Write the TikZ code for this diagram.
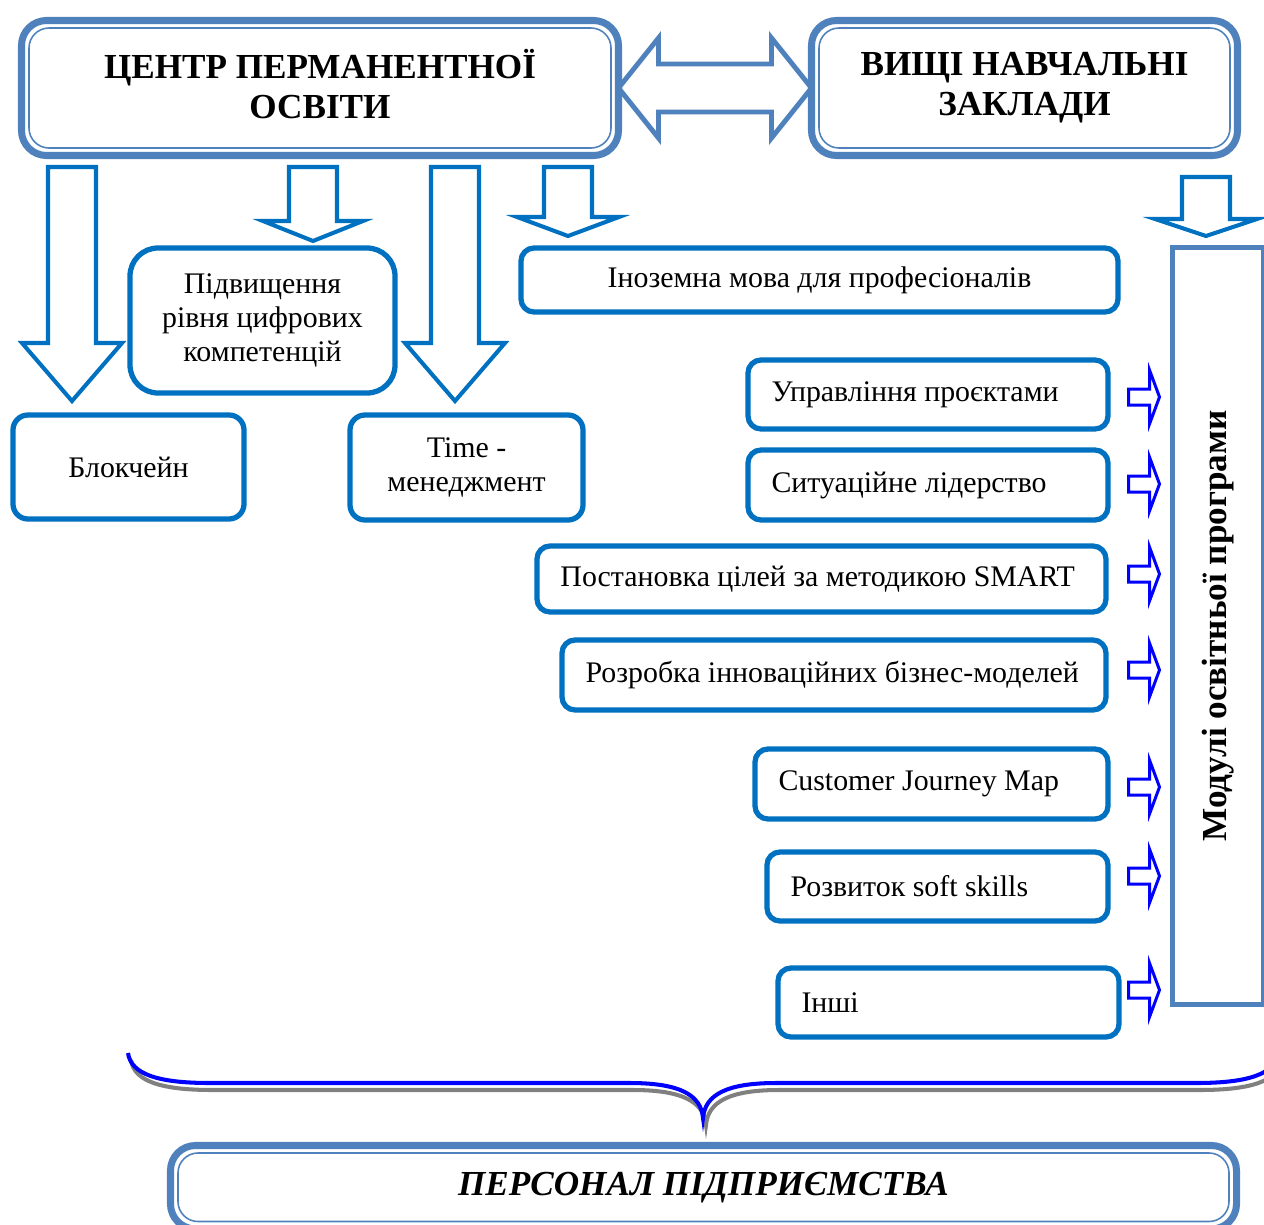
\documentclass[tikz,border=0pt]{standalone}
\usepackage{fontspec}
\setmainfont{Liberation Serif}
\usetikzlibrary{calc}

\definecolor{steelblue}{HTML}{4F81BD}
\definecolor{officeblue}{HTML}{0070C0}
\definecolor{brightblue}{HTML}{0000FF}
\definecolor{shade}{HTML}{808080}

% hollow arrow pointing down: top centre, shaft length, shaft half width, head half width, head length
\newcommand{\hollowdown}[5]{%
  \draw[hollow] #1 ++(-#3,0) -- ++(0,#2) -- ++({#3-#4},0) -- ++(#4,#5)
    -- ++(#4,-#5) -- ++({#3-#4},0) -- ++(0,-#2) -- cycle;}
% small arrow from a module box to the modules column: box, vertical offset
% (the column is turned, so its left side is its north)
\newcommand{\sidearrow}[2]{%
  \draw[sidearr] ($(#1.east -| modules.north)+(-44,#2-8)$) -- ++(21,0) -- ++(0,-19) -- ++(10,27)
    -- ++(-10,27) -- ++(0,-19) -- ++(-21,0) -- cycle;}

\begin{document}
\begin{tikzpicture}[
  x=0.2mm, y=-0.2mm,
  font=\fontsize{17}{19.6}\selectfont,
  box/.style={draw=officeblue, line width=3pt, rounded corners=3mm, align=center,
    outer sep=0pt, inner sep=0pt},
  item/.style={box, rounded corners=2.6mm, inner xsep=4.7mm},
  head/.style={draw=steelblue, line width=4pt, rounded corners=5mm, align=center,
    outer sep=0pt, font=\fontsize{20}{22.7}\selectfont\bfseries},
  headline/.style={draw=steelblue, line width=0.9pt, rounded corners=4mm},
  modbox/.style={draw=steelblue, line width=2.8pt, outer sep=0pt,
    font=\fontsize{20}{24}\selectfont\bfseries},
  hollow/.style={draw=officeblue, line width=2.3pt},
  twoway/.style={draw=steelblue, line width=2.8pt},
  sidearr/.style={draw=brightblue, line width=1.7pt},
  brace/.style={draw=brightblue, line width=2.3pt},
  braceshade/.style={draw=shade, line width=2.3pt}
]
  \useasboundingbox (0,0) rectangle (1264,1225);

  % top level
  \node[head, minimum width=119.4mm, minimum height=27mm] (centre) at (320,88)
    {ЦЕНТР ПЕРМАНЕНТНОЇ\\ОСВІТИ\vphantom{Д}};
  \node[head, minimum width=85.2mm, minimum height=27mm] (univ) at (1024.5,88)
    {ВИЩІ НАВЧАЛЬНІ\\ЗАКЛАДИ};
  \draw[headline] ($(centre.north west)+(7.5,7.5)$) rectangle ($(centre.south east)+(-7.5,-7.5)$);
  \draw[headline] ($(univ.north west)+(7.5,7.5)$) rectangle ($(univ.south east)+(-7.5,-7.5)$);

  \draw[twoway] (centre.east) -- ++(40,-50) -- ++(0,26) -- ++(113,0) -- ++(0,-26)
    -- (univ.west) -- ++(-40,50) -- ++(0,-26) -- ++(-113,0) -- ++(0,26) -- cycle;

  % courses of the centre
  \node[box, rounded corners=5.6mm, minimum width=53mm, minimum height=29mm] (digital)
    at (262.5,320.5) {Підвищення\\рівня цифрових\\компетенцій};
  \node[box, minimum width=46.2mm, minimum height=20.8mm] (chain) at (128.5,467) {Блокчейн};
  \node[box, minimum width=46.6mm, minimum height=21mm] (time) at (466.5,467.5)
    {Time -\\менеджмент};
  \node[box, rounded corners=2.6mm, minimum width=119.4mm, minimum height=12.8mm] (lang)
    at (819.5,280) {Іноземна мова для професіоналів};

  \hollowdown{(72,167)}{176}{24}{50}{58}
  \hollowdown{(313,167)}{54}{24}{50}{20}
  \hollowdown{(455,167)}{176}{24}{50}{58}
  \hollowdown{(568,167)}{50}{24}{51}{19}
  \hollowdown{(1206,177)}{42}{24}{51}{17}

  % modules
  \node[item, minimum height=13.8mm] (project) at (928,394.5)
    {\makebox[62.6mm][l]{Управління проєктами}};
  \node[item, minimum height=14mm] (leader) at (928,485)
    {\makebox[62.6mm][l]{Ситуаційне лідерство}};
  \node[item, minimum height=13.2mm] (smart) at (821.5,579)
    {\makebox[104.4mm][l]{Постановка цілей за методикою SMART}};
  \node[item, minimum height=14mm] (model) at (834,675)
    {\makebox[99.4mm][l]{Розробка інноваційних бізнес-моделей}};
  \node[item, minimum height=14mm] (journey) at (931.5,784)
    {\makebox[61.2mm][l]{Customer Journey Map}};
  \node[item, minimum height=13.8mm] (soft) at (937.5,886.5)
    {\makebox[58.8mm][l]{Розвиток soft skills}};
  \node[item, minimum height=13.8mm] (other) at (948.5,1002.5)
    {\makebox[58.8mm][l]{Інші}};

  \node[modbox, rotate=90, minimum width=151.4mm, minimum height=18.1mm] (modules)
    at (1217.75,626) {Модулі освітньої програми};

  \sidearrow{project}{2.5}
  \sidearrow{leader}{-1}
  \sidearrow{smart}{-5}
  \sidearrow{model}{-5}
  \sidearrow{journey}{3}
  \sidearrow{soft}{-10.5}
  \sidearrow{other}{-12.5}

  % brace over the staff
  \draw[braceshade, shift={(3,7)}] (128,1053) .. controls (131,1075) and (160,1083) .. (210,1083)
    -- (630,1083) .. controls (680,1083) and (701,1095) .. (703,1118)
    .. controls (705,1095) and (726,1083) .. (776,1083) -- (1196,1083)
    .. controls (1246,1083) and (1275,1075) .. (1278,1053);
  \draw[brace] (128,1053) .. controls (131,1075) and (160,1083) .. (210,1083)
    -- (630,1083) .. controls (680,1083) and (701,1095) .. (703,1118)
    .. controls (705,1095) and (726,1083) .. (776,1083) -- (1196,1083)
    .. controls (1246,1083) and (1275,1075) .. (1278,1053);

  \node[head, font=\fontsize{20}{24}\selectfont\bfseries\itshape, minimum width=213.2mm,
    minimum height=16.7mm] (staff) at (703.5,1187.25) {ПЕРСОНАЛ ПІДПРИЄМСТВА};
  \draw[headline] ($(staff.north west)+(7.5,7.5)$) rectangle ($(staff.south east)+(-7.5,-7.5)$);
\end{tikzpicture}
\end{document}
